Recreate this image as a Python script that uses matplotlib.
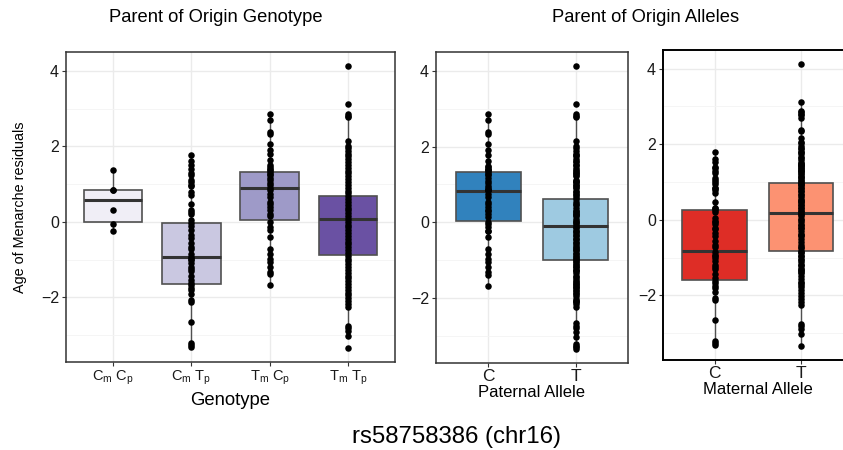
import matplotlib
matplotlib.use("Agg")
import matplotlib.pyplot as plt
import numpy as np

plt.rcParams["font.family"] = ["Liberation Sans", "DejaVu Sans"]
plt.rcParams["mathtext.fontset"] = "custom"
plt.rcParams["mathtext.rm"] = "Liberation Sans"
plt.rcParams["mathtext.it"] = "Liberation Sans"

# ── data ──────────────────────────────────────────────────────────────────────
genotypes = [r"$\mathrm{C_m\ C_p}$", r"$\mathrm{C_m\ T_p}$",
             r"$\mathrm{T_m\ C_p}$", r"$\mathrm{T_m\ T_p}$"]

cm_cp = [1.38, 0.85, 0.84, 0.32, -0.05, -0.24]
cm_tp = [1.78, 1.61, 1.52, 1.39, 1.30, 1.24, 1.10, 1.06, 0.99, 0.94, 0.79, 0.72,
         0.48, 0.31, 0.25, 0.20, 0.04, -0.03, -0.12, -0.22, -0.35, -0.43, -0.55,
         -0.66, -0.73, -0.84, -0.92, -0.97, -1.02, -1.10, -1.19, -1.25, -1.30,
         -1.44, -1.54, -1.62, -1.68, -1.75, -1.81, -1.90, -2.07, -2.12, -2.65,
         -3.22, -3.27, -3.31]
tm_cp = [2.87, 2.69, 2.38, 2.34, 2.06, 1.90, 1.79, 1.63, 1.50, 1.46, 1.41, 1.37,
         1.32, 1.28, 1.24, 1.17, 1.10, 1.03, 0.97, 0.91, 0.84, 0.75, 0.66, 0.53,
         0.47, 0.40, 0.31, 0.22, 0.15, 0.00, -0.13, -0.22, -0.40, -0.71, -0.84,
         -0.97, -1.06, -1.19, -1.32, -1.39, -1.68]
tm_tp = [4.12, 3.12, 2.85, 2.80, 2.77, 2.15, 2.02, 1.95, 1.88, 1.80, 1.74, 1.66,
         1.58, 1.51, 1.44, 1.36, 1.29, 1.21, 1.13, 1.06, 0.98, 0.91, 0.83, 0.76,
         0.68, 0.61, 0.53, 0.46, 0.38, 0.31, 0.23, 0.16, 0.09, 0.01, -0.07, -0.14,
         -0.22, -0.29, -0.37, -0.44, -0.52, -0.59, -0.67, -0.74, -0.82, -0.89,
         -0.97, -1.04, -1.12, -1.19, -1.27, -1.34, -1.42, -1.49, -1.57, -1.64,
         -1.72, -1.79, -1.87, -1.94, -2.02, -2.09, -2.17, -2.25, -2.75, -2.80,
         -2.90, -3.02, -3.35]

# box statistics: q1, median, q3, lower whisker, upper whisker
geno_q1 = [0.01, -1.64, 0.04, -0.87]
geno_med = [0.58, -0.92, 0.91, 0.09]
geno_q3 = [0.84, -0.035, 1.33, 0.68]
geno_lo = [-0.24, -3.31, -1.68, -3.02]
geno_hi = [1.38, 1.78, 2.87, 2.85]

alleles = ["C", "T"]
pat_q1 = [0.03, -1.00]
pat_med = [0.83, -0.09]
pat_q3 = [1.32, 0.62]
pat_lo = [-1.68, -3.35]
pat_hi = [2.87, 2.85]

mat_q1 = [-1.59, -0.82]
mat_med = [-0.82, 0.18]
mat_q3 = [0.26, 0.96]
mat_lo = [-3.31, -3.35]
mat_hi = [1.78, 3.12]

geno_points = [cm_cp, cm_tp, tm_cp, tm_tp]
pat_points = [cm_cp + tm_cp, cm_tp + tm_tp]
mat_points = [cm_cp + cm_tp, tm_cp + tm_tp]

geno_colours = ["#F0EEF6", "#CAC8E1", "#9E9AC8", "#6A51A3"]
pat_colours = ["#3182BD", "#9ECAE1"]
mat_colours = ["#DE2D26", "#FC9272"]


def draw_panel(ax, labels, points, q1, med, q3, lo, hi, colours, ylim,
               xlabel, tick_size, label_size, label_pad):
    stats = []
    for i in range(len(labels)):
        stats.append(dict(q1=q1[i], med=med[i], q3=q3[i],
                          whislo=lo[i], whishi=hi[i], fliers=[]))
    pos = np.arange(1, len(labels) + 1)
    bp = ax.bxp(stats, positions=pos, widths=0.75, patch_artist=True,
                showcaps=False, showfliers=False, zorder=2,
                boxprops=dict(edgecolor="#505050", linewidth=1.2),
                whiskerprops=dict(color="#505050", linewidth=1.0),
                medianprops=dict(color="#333333", linewidth=2.2))
    for patch, c in zip(bp["boxes"], colours):
        patch.set_facecolor(c)
    for p, vals in zip(pos, points):
        ax.scatter(np.full(len(vals), p), vals, s=22, color="black",
                   zorder=3, linewidths=0)

    ax.set_xlim(0.4, len(labels) + 0.6)
    ax.set_ylim(*ylim)
    ax.set_yticks([-2, 0, 2, 4])
    ax.set_yticklabels(["\u22122", "0", "2", "4"])
    ax.set_yticks([-3, -1, 1, 3], minor=True)
    ax.set_xticks(pos)
    ax.set_xticklabels(labels)
    ax.grid(True, which="major", color="#EBEBEB", linewidth=1.0, zorder=0)
    ax.grid(True, which="minor", axis="y", color="#F4F4F4", linewidth=0.6,
            zorder=0)
    ax.set_axisbelow(True)
    ax.tick_params(axis="both", which="major", length=3, width=0.8,
                   color="#333333", pad=2, labelcolor="#1a1a1a")
    ax.tick_params(axis="y", labelsize=11.5)
    ax.tick_params(axis="x", labelsize=tick_size, pad=1.5)
    ax.tick_params(which="minor", length=0)
    for s in ax.spines.values():
        s.set_color("#333333")
        s.set_linewidth(1.1)
    ax.set_xlabel(xlabel, fontsize=label_size, labelpad=label_pad)


fig = plt.figure(figsize=(8.43, 4.5), dpi=100)
W, H = 843, 450


def rect(l, r, t, b):
    return [l / W, 1 - b / H, (r - l) / W, (b - t) / H]


ax1 = fig.add_axes(rect(66, 395, 52, 362))
ax2 = fig.add_axes(rect(436, 628, 52, 363))
ax3 = fig.add_axes(rect(663, 852.6, 50, 360))

draw_panel(ax1, genotypes, geno_points, geno_q1, geno_med, geno_q3,
           geno_lo, geno_hi, geno_colours, (-3.71, 4.50), "Genotype",
           10.5, 13.3, 4)
draw_panel(ax2, alleles, pat_points, pat_q1, pat_med, pat_q3,
           pat_lo, pat_hi, pat_colours, (-3.72, 4.50), "Paternal Allele",
           12.5, 12, 0.5)
draw_panel(ax3, alleles, mat_points, mat_q1, mat_med, mat_q3,
           mat_lo, mat_hi, mat_colours, (-3.71, 4.49), "Maternal Allele",
           12.5, 12, 0.5)
for s in ax3.spines.values():
    s.set_color("black")
    s.set_linewidth(1.4)
ax3.spines["right"].set_visible(False)

fig.text(20 / W, 1 - 207 / H, "Age of Menarche residuals", rotation=90,
         ha="center", va="center", fontsize=10.4)
fig.text(216 / W, 1 - 17 / H, "Parent of Origin Genotype", ha="center",
         va="center", fontsize=13.2)
fig.text(646 / W, 1 - 17 / H, "Parent of Origin Alleles", ha="center",
         va="center", fontsize=13.2)
fig.text(456 / W, 1 - 437 / H, "rs58758386 (chr16)", ha="center",
         va="center", fontsize=17.3)

fig.savefig("out.png", dpi=100)
